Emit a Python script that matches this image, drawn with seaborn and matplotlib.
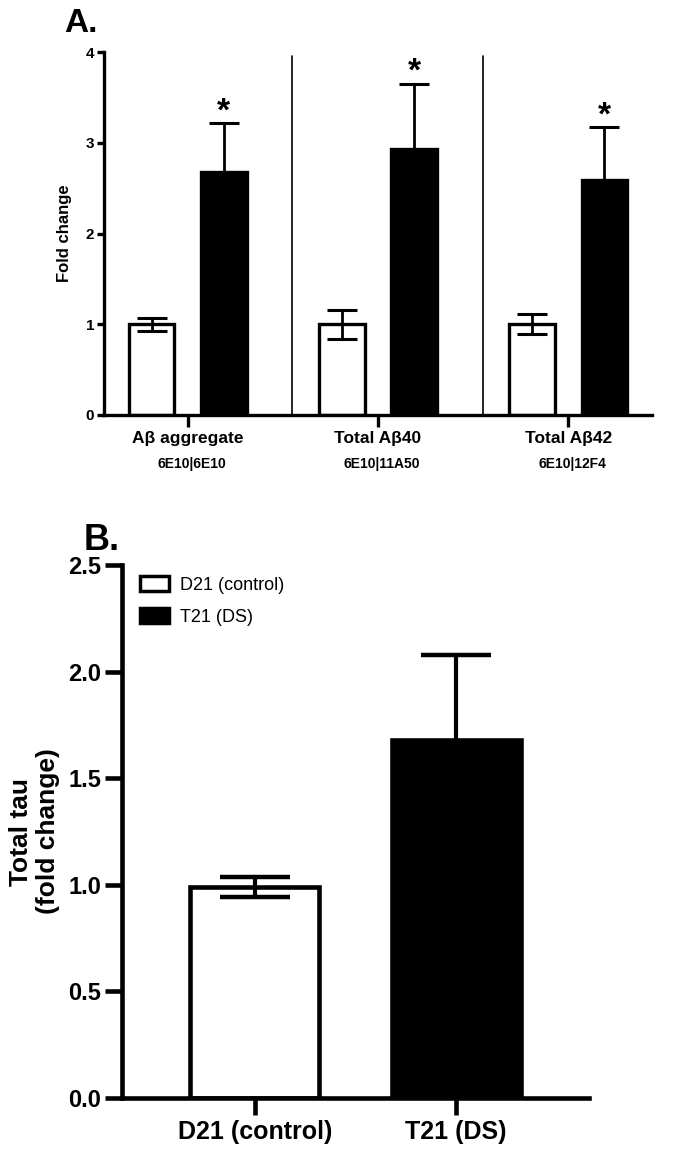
import matplotlib
matplotlib.use("Agg")
import matplotlib.pyplot as plt
import seaborn as sns
import pandas as pd
from matplotlib.patches import Patch

# ---------------- data ----------------
a_categories = ["Aβ aggregate", "Total Aβ40", "Total Aβ42"]
a_antibodies = ["6E10|6E10", "6E10|11A50", "6E10|12F4"]
a_groups = ["D21 (control)", "T21 (DS)"]
a_control = [1.0, 1.0, 1.0]
a_control_err = [0.07, 0.16, 0.11]
a_ds = [2.68, 2.93, 2.59]
a_ds_err = [0.54, 0.72, 0.58]
a_sig = ["*", "*", "*"]
a_yticks = [0, 1, 2, 3, 4]

b_groups = ["D21 (control)", "T21 (DS)"]
b_values = [0.99, 1.68]
b_err = [0.045, 0.40]
b_yticks = [0.0, 0.5, 1.0, 1.5, 2.0, 2.5]

colors = {"D21 (control)": "white", "T21 (DS)": "black"}

sns.set_theme(style="white")
plt.rcParams['font.family'] = ['Liberation Sans', 'DejaVu Sans']
plt.rcParams.update({'text.color': 'black', 'axes.labelcolor': 'black',
                     'xtick.color': 'black', 'ytick.color': 'black'})
NARROW = ['Liberation Sans Narrow', 'Liberation Sans', 'DejaVu Sans']

W, H = 685, 1152
fig = plt.figure(figsize=(W / 100, H / 100), dpi=100)

def box(l, t, r, b):
    return [l / W, 1 - b / H, (r - l) / W, (b - t) / H]

# ---------------- panel A ----------------
axA = fig.add_axes(box(104, 52, 652, 415))
dfA = pd.DataFrame({
    "category": a_categories * 2,
    "group": [a_groups[0]] * 3 + [a_groups[1]] * 3,
    "value": a_control + a_ds,
})
sns.barplot(data=dfA, x="category", y="value", hue="group", order=a_categories,
            hue_order=a_groups, palette=colors, edgecolor="black", linewidth=2.4,
            width=0.76, gap=0.37, errorbar=None, legend=False, ax=axA, zorder=2)
errsA = [a_control_err, a_ds_err]
for cont, errs in zip(axA.containers, errsA):
    xs = [p.get_x() + p.get_width() / 2 for p in cont]
    hs = [p.get_height() for p in cont]
    axA.errorbar(xs, hs, yerr=errs, fmt='none', ecolor='black', elinewidth=2,
                 capsize=11, capthick=2.2, zorder=3)
    if errs is a_ds_err:
        for x, h, e, s in zip(xs, hs, errs, a_sig):
            axA.text(x, h + e + 0.03, s, ha='center', va='baseline', fontsize=24,
                     fontweight='bold', family=NARROW, color='black')
axA.set_xlim(-0.44, 2.44)
axA.set_ylim(0, 4)
axA.set_yticks(a_yticks)
axA.set_yticklabels([str(t) for t in a_yticks], fontsize=11, fontweight='bold', family=NARROW)
axA.set_xticks(range(len(a_categories)))
axA.set_xticklabels(a_categories, fontsize=12.5, fontweight='bold', family=NARROW)
for i, ab in enumerate(a_antibodies):
    axA.annotate(ab, xy=(i, 0), xycoords=('data', 'axes fraction'), xytext=(3, -35),
                 textcoords='offset points', ha='center', va='center', fontsize=10,
                 fontweight='bold', family=NARROW, color='black')
for xv in (0.55, 1.55):
    axA.axvline(xv, ymin=0, ymax=0.99, color='black', lw=1.2, zorder=1)
axA.set_xlabel("")
axA.set_ylabel("Fold change", fontsize=12, fontweight='bold', family=NARROW, labelpad=10)
for s in ("top", "right"):
    axA.spines[s].set_visible(False)
for s in ("left", "bottom"):
    axA.spines[s].set_linewidth(2.4)
    axA.spines[s].set_color('black')
axA.tick_params(axis='y', direction='out', length=5, width=2.4, color='black', pad=2, left=True)
axA.tick_params(axis='x', direction='out', length=8.5, width=2.4, color='black', pad=3, bottom=True)
fig.text(64 / W, 1 - 32 / H, "A.", fontsize=24, fontweight='bold', family=NARROW,
         ha='left', va='baseline', color='black')

# ---------------- panel B ----------------
axB = fig.add_axes(box(122, 565, 589, 1098))
dfB = pd.DataFrame({"group": b_groups, "value": b_values})
sns.barplot(data=dfB, x="group", y="value", hue="group", order=b_groups,
            hue_order=b_groups, palette=colors, edgecolor="black", linewidth=3.3,
            width=0.64, errorbar=None, legend=False, ax=axB, zorder=2)
bars = [p for c in axB.containers for p in c]
xs = [p.get_x() + p.get_width() / 2 for p in bars]
hs = [p.get_height() for p in bars]
axB.errorbar(xs, hs, yerr=b_err, fmt='none', ecolor='black', elinewidth=3,
             capsize=25, capthick=3.2, zorder=3)
axB.set_xlim(-0.66, 1.66)
axB.set_ylim(0, 2.5)
axB.set_yticks(b_yticks)
axB.set_yticklabels([f"{t:.1f}" for t in b_yticks], fontsize=17, fontweight='bold')
axB.set_xticks(range(len(b_groups)))
axB.set_xticklabels(b_groups, fontsize=18, fontweight='bold')
axB.set_xlabel("")
axB.set_ylabel("Total tau\n(fold change)", fontsize=19, fontweight='bold', labelpad=6,
               linespacing=1.15)
for s in ("top", "right"):
    axB.spines[s].set_visible(False)
for s in ("left", "bottom"):
    axB.spines[s].set_linewidth(3.3)
    axB.spines[s].set_color('black')
axB.tick_params(axis='y', direction='out', length=12, width=3.3, color='black', pad=3, left=True)
axB.tick_params(axis='x', direction='out', length=12, width=3.3, color='black', pad=4, bottom=True)
handles = [Patch(facecolor=colors[g], edgecolor='black', linewidth=2.5, label=g) for g in b_groups]
leg = axB.legend(handles=handles, loc='upper left', bbox_to_anchor=(0.015, 1.0), frameon=False,
                 fontsize=13, handlelength=1.6, handleheight=0.9, labelspacing=0.8,
                 handletextpad=0.65, borderaxespad=0.2)
for t in leg.get_texts():
    t.set_color('black')
fig.text(84 / W, 1 - 550 / H, "B.", fontsize=26, fontweight='bold', family=NARROW,
         ha='left', va='baseline', color='black')

fig.savefig("out.png", dpi=100, facecolor='white')
